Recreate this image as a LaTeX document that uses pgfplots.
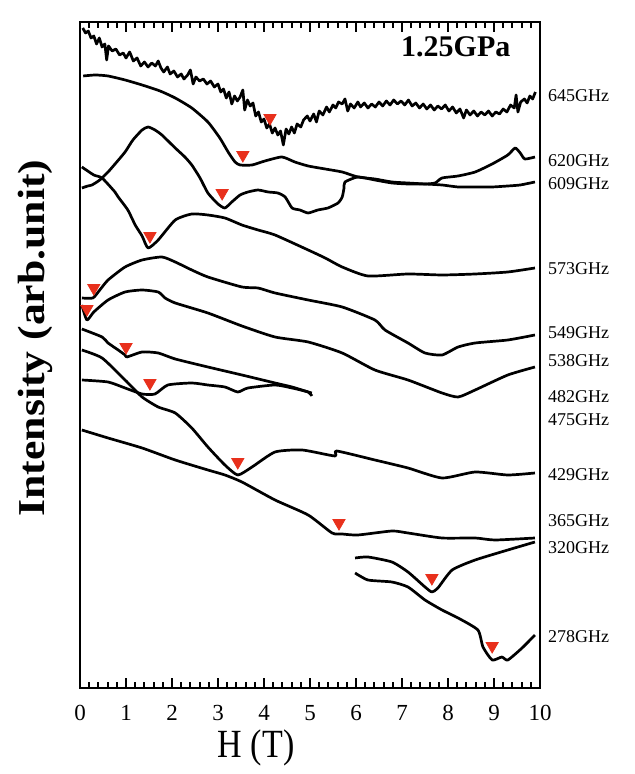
\documentclass[border=0pt]{standalone}
\usepackage{pgfplots}
\pgfplotsset{compat=1.18}
\usepackage{fontspec}
\setmainfont{Liberation Serif}
\definecolor{tri}{HTML}{E8301C}
\begin{document}
\begin{tikzpicture}[curve/.style={black, line width=1.35pt, line join=round, mark=none},
  scurve/.style={curve, smooth, tension=0.35}]
\begin{axis}[
  name=ax, scale only axis, width=230pt, height=333pt,
  xmin=0, xmax=10, ymin=-688, ymax=-22,
  y filter/.expression={-y},
  xtick={0,1,...,10}, minor x tick num=4, ytick=\empty,
  tick align=inside, major tick length=5pt, minor tick length=3pt,
  tick style={black, line width=1pt},
  axis line style={line width=1pt},
  clip=false,
  /pgf/number format/assume math mode=true,
  xticklabel style={font=\fontsize{11.5}{12}\selectfont, yshift=-5pt},
]
% 645 GHz
\addplot[curve] coordinates {(0.06,28)(0.12,33)(0.18,31)(0.24,38)(0.30,36)(0.36,44)(0.42,38)(0.48,47)(0.54,44)(0.58,60)(0.62,46)(0.70,51)(0.78,49)(0.86,55)(0.94,53)(1.00,58)(1.08,52)(1.16,61)(1.24,58)(1.32,66)(1.40,62)(1.48,67)(1.56,63)(1.64,66)(1.70,61)(1.76,68)(1.82,72)(1.90,67)(1.96,74)(2.04,71)(2.12,77)(2.20,74)(2.26,79)(2.34,75)(2.40,70)(2.46,84)(2.52,77)(2.60,81)(2.68,79)(2.76,84)(2.84,81)(2.92,87)(3.00,84)(3.06,92)(3.12,89)(3.18,98)(3.24,92)(3.30,104)(3.36,96)(3.42,101)(3.48,97)(3.54,90)(3.58,110)(3.64,100)(3.70,106)(3.76,103)(3.82,116)(3.88,112)(3.94,122)(4.00,119)(4.06,128)(4.12,124)(4.18,133)(4.24,128)(4.30,135)(4.36,131)(4.42,145)(4.48,129)(4.54,134)(4.60,127)(4.66,133)(4.72,124)(4.80,127)(4.86,120)(4.94,116)(5.00,121)(5.08,114)(5.14,122)(5.20,111)(5.28,115)(5.36,107)(5.42,112)(5.50,105)(5.56,108)(5.62,102)(5.70,104)(5.76,99)(5.82,111)(5.88,104)(5.96,108)(6.04,102)(6.10,107)(6.18,103)(6.26,108)(6.34,104)(6.42,107)(6.50,102)(6.58,106)(6.66,101)(6.74,105)(6.82,100)(6.90,104)(6.98,101)(7.06,105)(7.14,100)(7.22,106)(7.30,103)(7.38,108)(7.46,104)(7.54,109)(7.62,105)(7.70,110)(7.78,106)(7.86,109)(7.94,105)(8.02,111)(8.10,107)(8.18,113)(8.26,109)(8.34,118)(8.40,110)(8.48,115)(8.56,111)(8.64,116)(8.72,112)(8.80,115)(8.88,111)(8.96,116)(9.04,112)(9.12,114)(9.20,109)(9.28,112)(9.36,105)(9.44,108)(9.48,95)(9.52,112)(9.58,102)(9.66,99)(9.72,103)(9.78,96)(9.84,99)(9.90,92)};
% 620 GHz
\addplot[scurve] coordinates {(0.07,76)(0.33,75)(0.61,76)(0.98,80)(1.35,85)(1.74,91)(2.07,98)(2.43,108)(2.78,122)(3.04,138)(3.22,152)(3.37,162)(3.48,165)(3.74,165)(4.02,161)(4.39,157)(4.67,162)(4.96,166)(5.33,169)(5.70,172)(6.04,177)(6.41,179)(6.78,182)(7.13,183)(7.50,184)(7.87,185)(8.22,187)(8.59,187)(8.96,187)(9.30,186)(9.57,185)(9.89,182)};
% 609 GHz
\addplot[scurve] coordinates {(0.04,188)(0.17,186)(0.26,185)(0.43,180)(0.61,172)(0.78,163)(0.98,152)(1.15,140)(1.35,130)(1.48,127)(1.63,130)(1.78,135)(2.07,148)(2.28,157)(2.43,165)(2.61,178)(2.78,193)(3.00,204)(3.15,208)(3.30,202)(3.48,195)(3.65,192)(3.87,190)(4.09,192)(4.30,193)(4.46,197)(4.61,208)(4.78,210)(4.96,213)(5.17,210)(5.39,208)(5.61,203)(5.70,197)(5.74,188)(5.76,182)(6.04,177)(6.41,180)(6.78,183)(7.13,184)(7.50,184)(7.72,183)(7.87,178)(8.22,176)(8.59,172)(8.96,164)(9.30,155)(9.46,148)(9.57,153)(9.67,159)(9.89,157)};
% 573 GHz
\addplot[scurve] coordinates {(0.04,167)(0.30,175)(0.48,178)(0.76,192)(0.83,197)(1.04,210)(1.20,225)(1.35,236)(1.48,248)(1.70,240)(2.07,220)(2.43,214)(2.78,215)(3.15,218)(3.52,225)(3.87,230)(4.24,235)(4.96,250)(5.33,258)(5.70,267)(6.26,276)(7.13,274)(7.87,275)(8.59,274)(9.30,272)(9.89,268)};
% 549 GHz
\addplot[scurve] coordinates {(0.04,298)(0.28,298)(0.43,290)(0.61,280)(0.98,267)(1.35,260)(1.78,257)(2.07,262)(2.43,270)(2.78,277)(3.52,287)(3.87,288)(4.24,293)(4.96,300)(5.70,307)(6.41,320)(6.63,330)(7.13,343)(7.50,353)(7.87,355)(8.22,347)(8.59,343)(9.30,340)(9.89,335)};
% 538 GHz
\addplot[scurve] coordinates {(0.04,305)(0.15,320)(0.30,312)(0.61,300)(0.98,292)(1.35,290)(1.70,292)(1.85,298)(2.07,303)(2.78,313)(3.52,326)(4.24,337)(4.96,342)(5.70,353)(6.41,370)(7.13,380)(7.87,393)(8.22,397)(8.59,390)(9.30,375)(9.89,367)};
% 482 GHz
\addplot[scurve] coordinates {(0.04,329)(0.48,337)(0.61,343)(0.83,350)(0.98,355)(1.02,357)(1.35,352)(1.70,353)(2.07,359)(2.78,367)(3.52,375)(4.24,383)(4.61,387)(4.96,392)(5.04,393)};
% 475 GHz
\addplot[scurve] coordinates {(0.04,380)(0.61,382)(0.98,388)(1.35,394)(1.63,394)(1.91,385)(2.43,383)(2.78,385)(3.15,387)(3.43,392)(3.65,388)(4.24,385)(4.61,388)(4.96,392)(5.04,396)};
% 429 GHz
\addplot[scurve] coordinates {(0.04,350)(0.48,358)(0.98,380)(1.35,397)(1.70,407)(2.07,413)(2.43,428)(2.78,447)(3.15,465)(3.43,475)(3.74,467)(4.24,452)(4.83,450)(5.54,456)(5.58,451)(6.41,460)(7.13,468)(7.87,478)(8.59,472)(9.30,475)(9.89,473)};
% 365 GHz
\addplot[scurve] coordinates {(0.04,430)(0.61,438)(1.35,448)(2.07,460)(2.78,470)(3.15,475)(3.52,482)(4.24,500)(4.96,515)(5.48,533)(5.70,534)(6.04,535)(6.78,531)(7.13,533)(7.87,538)(8.59,538)(9.02,540)(9.89,538)};
% 320 GHz
\addplot[scurve] coordinates {(5.98,558)(6.26,557)(6.78,562)(7.13,572)(7.50,587)(7.65,592)(7.78,588)(8.09,570)(8.59,560)(9.30,550)(9.89,542)};
% 278 GHz
\addplot[scurve] coordinates {(5.98,573)(6.26,580)(6.78,582)(7.13,587)(7.50,600)(7.87,610)(8.22,618)(8.65,630)(8.76,647)(8.96,660)(9.17,657)(9.30,660)(9.61,648)(9.89,635)};
% resonance markers
\addplot[only marks, mark=triangle*, mark size=3.5pt, color=tri, mark options={rotate=180, fill=tri, draw=tri}]
 coordinates {(4.13,118)(3.54,155)(3.09,193)(1.52,236)(0.30,288)(0.15,309)(1.00,347)(1.52,383)(3.43,462)(5.63,523)(7.65,578)(8.96,646)};
% labels
\begin{scope}[every node/.style={anchor=west, font=\fontsize{9}{9}\selectfont, inner sep=0pt}]
\node at (axis cs:10.17,-96) {645GHz};
\node at (axis cs:10.17,-161) {620GHz};
\node at (axis cs:10.17,-184) {609GHz};
\node at (axis cs:10.17,-269) {573GHz};
\node at (axis cs:10.17,-333) {549GHz};
\node at (axis cs:10.17,-361) {538GHz};
\node at (axis cs:10.17,-397) {482GHz};
\node at (axis cs:10.17,-420) {475GHz};
\node at (axis cs:10.17,-475) {429GHz};
\node at (axis cs:10.17,-521) {365GHz};
\node at (axis cs:10.17,-548) {320GHz};
\node at (axis cs:10.17,-637) {278GHz};
\end{scope}
\node[font=\bfseries\fontsize{15}{15}\selectfont] at (axis cs:8.17,-47) {1.25GPa};
\node at (axis cs:3.83,-748) {\scalebox{0.85}[1]{\fontsize{20}{20}\selectfont H (T)}};
\node[rotate=90] at (axis cs:-0.98,-338) {\scalebox{1.15}[1]{\bfseries\fontsize{19}{19}\selectfont Intensity (arb.unit)}};
\coordinate (SW) at (rel axis cs:0,0);
\coordinate (NW) at (rel axis cs:0,1);
\coordinate (NE) at (rel axis cs:1,1);
\end{axis}
% frame ticks, drawn in plain TikZ along the axis frame
\foreach \i in {0,...,10} {
  \draw[line width=0.9pt] ([xshift=\i*23pt]SW) -- ++(0,4.5pt);
  \draw[line width=0.9pt] ([xshift=\i*23pt]NW) -- ++(0,-4.5pt);
}
\foreach \i in {1,...,49} {
  \draw[line width=0.9pt] ([xshift=\i*4.6pt]SW) -- ++(0,2.5pt);
  \draw[line width=0.9pt] ([xshift=\i*4.6pt]NW) -- ++(0,-2.5pt);
}
\pgfresetboundingbox
\path ([shift={(-40pt,-43pt)}]SW) rectangle ([shift={(47.5pt,11pt)}]NE);
\end{tikzpicture}
\end{document}
